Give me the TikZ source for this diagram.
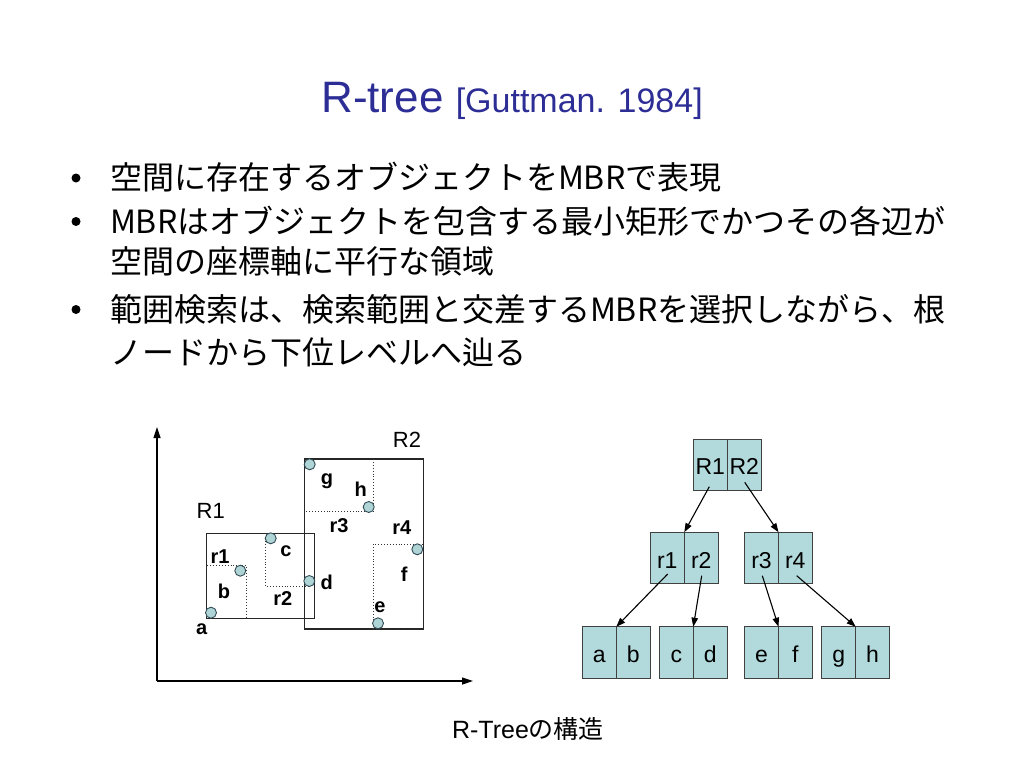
\documentclass[tikz,border=0pt]{standalone}
\usepackage{fontspec}
\setmainfont{Liberation Sans}
\newfontfamily\jp{Noto Sans CJK JP}
\usetikzlibrary{arrows.meta}
\definecolor{titleblue}{RGB}{45,45,150}
\definecolor{cellc}{RGB}{178,218,220}
\definecolor{ptc}{RGB}{175,212,214}
\definecolor{ptline}{RGB}{50,75,85}
\begin{document}
\begin{tikzpicture}[x=1pt,y=-1pt,
  every node/.style={inner sep=0pt, outer sep=0pt},
  bline/.style={anchor=base west, font=\jp\fontsize{32}{32}\selectfont},
  bdot/.style={circle, fill=black, minimum size=9pt},
  mbr/.style={draw=black!85, line width=1.2pt},
  sub/.style={draw=black!80, line width=0.9pt, dotted},
  pt/.style={circle, draw=ptline, fill=ptc, line width=0.9pt, minimum size=11pt},
  lbl/.style={font=\bfseries\fontsize{20}{20}\selectfont},
  biglbl/.style={font=\fontsize{22}{22}\selectfont},
  cell/.style={draw=black!75, fill=cellc, line width=0.8pt, minimum width=34pt, minimum height=51.6pt, text height=20pt, text depth=0pt, font=\fontsize{23}{23}\selectfont},
  link/.style={-{Triangle[length=9pt,width=6.5pt]}, line width=1.1pt},
  axis/.style={-{Triangle[length=11pt,width=7pt]}, line width=1.2pt}
]
\useasboundingbox[fill=white] (0,0) rectangle (1024,768);

% title
\node[anchor=base, text=titleblue] (title) at (512,112) {\fontsize{44}{44}\selectfont R-tree \fontsize{34}{34}\selectfont[Guttman. 1984]};

% bullets
\node[bdot] (d1) at (76,178) {};
\node[bline] (l1) at (110,189.5) {空間に存在するオブジェクトをMBRで表現};
\node[bdot] (d2) at (76,221.5) {};
\node[bline] (l2) at (110,233) {MBRはオブジェクトを包含する最小矩形でかつその各辺が};
\node[bline] (l2b) at (110,273) {空間の座標軸に平行な領域};
\node[bdot] (d3) at (76,309.5) {};
\node[bline] (l3) at (110,321) {範囲検索は、検索範囲と交差するMBRを選択しながら、根};
\node[bline] (l3b) at (110,364.5) {ノードから下位レベルへ辿る};

% axes
\coordinate (O) at (157,681);
\coordinate (Ytip) at (157,427);
\coordinate (Xtip) at (473,681);
\draw[axis] (O) -- (Ytip);
\draw[axis] (O) -- (Xtip);

% MBRs
\draw[mbr] (206.7,533.3) rectangle (314.3,618.3);
\draw[mbr] (304.3,459) rectangle (423.3,629);
\draw[sub] (207.3,565.3) -- (246,565.3) -- (246,618.3);
\draw[sub] (265.5,538.3) -- (265.5,586) -- (309.3,586);
\draw[sub] (373.3,459) -- (373.3,511.7) -- (304.3,511.7);
\draw[sub] (373.3,629) -- (373.3,544) -- (423.3,544);
\draw[sub] (373.3,629) -- (423.3,629);

% points
\node[pt] (pa) at (211,612.7) {};
\node[pt] (pb) at (240.3,570.7) {};
\node[pt] (pc) at (270.7,538.3) {};
\node[pt] (pd) at (309.3,581) {};
\node[pt] (pe) at (378,623.3) {};
\node[pt] (pf) at (417.3,549.3) {};
\node[pt] (pg) at (309.7,464.3) {};
\node[pt] (ph) at (368.7,507) {};

% labels
\node[lbl] (tr1) at (220,557) {r1};
\node[lbl] (tb) at (224,591) {b};
\node[lbl] (ta) at (201.7,629) {a};
\node[lbl] (tc) at (286,551) {c};
\node[lbl] (tr2) at (282.7,599) {r2};
\node[lbl] (td) at (326.7,582.3) {d};
\node[lbl] (tg) at (327,481) {g};
\node[lbl] (th) at (360.7,489.7) {h};
\node[lbl] (tr3) at (339,526) {r3};
\node[lbl] (tr4) at (401.7,527.3) {r4};
\node[lbl] (tf) at (404.3,574.3) {f};
\node[lbl] (te) at (380,607.3) {e};
\node[biglbl] (tR1) at (210.7,510.7) {R1};
\node[biglbl] (tR2) at (407,440) {R2};

% tree
\node[cell] (R1c) at (710.3,464.7) {R1};
\node[cell] (R2c) at (744.2,464.7) {R2};
\node[cell] (m1) at (667.3,558) {r1};
\node[cell] (m2) at (701.3,558) {r2};
\node[cell] (m3) at (761.5,558) {r3};
\node[cell] (m4) at (795.3,558) {r4};
\node[cell] (la) at (599.3,652.5) {a};
\node[cell] (lb) at (633.2,652.5) {b};
\node[cell] (lc) at (676.3,652.5) {c};
\node[cell] (ld) at (710.2,652.5) {d};
\node[cell] (le) at (761.5,652.5) {e};
\node[cell] (lf) at (795.3,652.5) {f};
\node[cell] (lg) at (838.7,652.5) {g};
\node[cell] (lh) at (872.5,652.5) {h};

\coordinate (sR1) at (709.3,486.7);
\coordinate (sR2) at (744.7,482.3);
\coordinate (sr1) at (667.7,574);
\coordinate (sr2) at (701.7,575.7);
\coordinate (sr3) at (762.3,575.7);
\coordinate (sr4) at (796.7,575.7);
\draw[link] (sR1) -- (m1.north east);
\draw[link] (sR2) -- (m3.north east);
\draw[link] (sr1) -- (la.north east);
\draw[link] (sr2) -- (lc.north east);
\draw[link] (sr3) -- (le.north east);
\draw[link] (sr4) -- (lg.north east);

% caption
\node[anchor=base, font=\fontsize{25}{25}\selectfont] (cap) at (528,738.3) {R-Tree{\jp の構造}};
\end{tikzpicture}
\end{document}
